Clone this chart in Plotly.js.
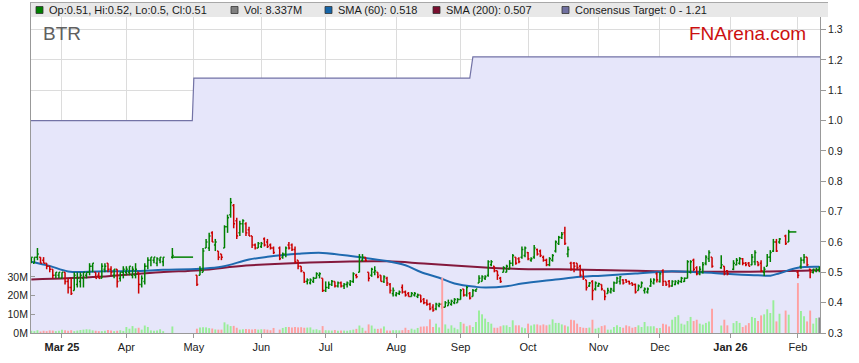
<!DOCTYPE html>
<html>
<head>
<meta charset="utf-8">
<script src="https://cdn.plot.ly/plotly-3.0.1.min.js"></script>
<style>
html,body{margin:0;padding:0;background:#ffffff;}
#chart{width:859px;height:363px;}
</style>
</head>
<body>
<div id="chart"></div>
<script>
// ---------------- DATA ----------------
// Days without trading (holidays and trading halts)
const closedDays = ['2025-04-18','2025-04-21','2025-04-23','2025-04-24','2025-04-25','2025-04-28',
  '2025-04-29','2025-04-30','2025-05-01','2025-06-09','2025-12-25','2025-12-26','2026-01-01',
  '2026-01-26','2026-01-29','2026-01-30'];
const firstDay = '2025-02-17';
const lastDay = '2026-02-11';

const opens = [
  .54,.53,.55,.55,.54,.53,.52,.51,.49,.49,
  .48,.50,.47,.45,.44,.46,.47,.48,.49,.50,.52,.50,.49,.48,.51,.53,.51,.49,.51,.48,.50,
  .50,.50,.49,.49,.50,.46,.47,.52,.54,.54,.53,.54,.535,.55,
  .49,.49,.50,.58,.58,.63,.59,.57,.56,.58,.65,.69,.72,.67,.63,.66,.66,.64,.62,.59,.58,
  .585,.61,.60,.59,.58,.58,.55,.56,.59,.59,.575,.54,.52,.50,.47,.465,.47,.48,.49,.48,
  .44,.45,.46,.47,.455,.465,.455,.46,.46,.47,.49,.50,.54,.55,.50,.49,.50,.50,.49,.47,.48,.46,.43,
  .425,.43,.45,.435,.43,.42,.425,.42,.425,.41,.40,.395,.385,.38,.39,.395,.385,.39,.395,.40,.40,
  .41,.445,.425,.43,.42,.44,.465,.47,.48,.49,.525,.52,.505,.48,.50,.50,.51,.53,.55,.545,.55,.555,
  .565,.54,.55,.575,.57,.55,.54,.525,.54,.57,.595,.615,.63,.56,.53,.53,.53,.52,.505,.475,.455,.47,.445,
  .455,.46,.44,.43,.435,.44,.465,.47,.475,.475,.47,.465,.46,.44,.45,.44,.435,.455,.465,.495,
  .47,.505,.47,.47,.455,.46,.465,.47,.47,.48,.50,.54,.515,.495,.50,.53,.545,.55,.515,.52,.505,
  .51,.525,.53,.545,.53,.53,.525,.535,.535,.53,.50,.52,.55,.57,.60,.60,.62,.60,
  .50,.52,.54,.55,.51,.50,.505,.51
];
const highs = [
  .55,.55,.58,.55,.55,.53,.52,.51,.50,.50,
  .50,.50,.48,.48,.50,.50,.50,.50,.50,.53,.53,.50,.50,.53,.53,.53,.52,.51,.51,.50,.52,
  .52,.52,.52,.53,.50,.49,.53,.55,.55,.55,.55,.55,.55,.58,
  .49,.52,.58,.61,.63,.635,.61,.57,.56,.655,.69,.745,.725,.68,.67,.675,.665,.65,.62,.595,.60,
  .60,.615,.61,.595,.585,.585,.565,.585,.60,.595,.585,.54,.52,.50,.48,.48,.485,.50,.50,.48,
  .47,.47,.475,.47,.47,.47,.465,.47,.475,.50,.495,.56,.56,.55,.50,.515,.52,.50,.49,.49,.485,.465,.45,
  .435,.44,.46,.44,.435,.435,.435,.43,.425,.415,.41,.40,.395,.40,.40,.40,.405,.41,.41,.415,.415,
  .445,.445,.455,.435,.445,.445,.49,.49,.49,.54,.54,.52,.505,.485,.52,.525,.54,.56,.55,.55,.585,.585,
  .567,.55,.59,.578,.575,.555,.545,.55,.56,.605,.62,.633,.65,.585,.535,.534,.53,.525,.507,.475,.468,.474,.47,
  .466,.46,.44,.449,.449,.47,.485,.488,.477,.477,.472,.466,.463,.46,.47,.45,.45,.48,.48,.50,
  .50,.51,.47,.475,.474,.474,.475,.485,.483,.54,.54,.545,.52,.52,.534,.556,.573,.55,.556,.52,.507,
  .54,.547,.55,.547,.534,.534,.56,.573,.535,.54,.518,.56,.573,.61,.61,.613,.624,.64,
  .507,.55,.56,.55,.512,.512,.515,.52
];
const lows = [
  .53,.53,.54,.53,.53,.51,.50,.48,.48,.48,
  .48,.46,.43,.425,.44,.45,.45,.45,.48,.49,.50,.48,.48,.48,.50,.50,.49,.48,.45,.47,.48,
  .49,.49,.48,.48,.43,.45,.46,.51,.52,.53,.52,.53,.52,.545,
  .455,.49,.50,.58,.57,.60,.57,.54,.54,.58,.63,.68,.645,.61,.62,.63,.62,.62,.58,.575,.58,
  .58,.585,.58,.575,.56,.54,.545,.55,.575,.57,.53,.51,.50,.465,.46,.46,.465,.48,.48,.435,
  .435,.445,.455,.45,.45,.45,.445,.45,.455,.465,.48,.50,.535,.535,.47,.485,.49,.48,.47,.465,.455,.43,.42,
  .42,.425,.43,.42,.42,.42,.42,.415,.40,.395,.39,.375,.37,.375,.385,.38,.385,.39,.39,.395,.40,
  .41,.42,.42,.41,.42,.435,.465,.47,.475,.485,.52,.50,.475,.465,.50,.50,.51,.52,.525,.53,.545,.55,
  .54,.535,.545,.555,.55,.535,.52,.52,.535,.565,.59,.61,.59,.55,.505,.50,.51,.485,.475,.44,.452,.408,.44,
  .452,.44,.408,.43,.43,.435,.463,.46,.46,.465,.46,.455,.43,.44,.45,.43,.43,.452,.46,.466,
  .466,.455,.455,.45,.452,.457,.46,.465,.468,.48,.496,.503,.49,.49,.496,.523,.534,.515,.512,.49,.49,
  .507,.523,.525,.523,.52,.52,.523,.523,.52,.50,.488,.52,.534,.567,.567,.594,.59,.60,
  .48,.512,.529,.52,.48,.496,.50,.50
];
const closes = [
  .55,.55,.56,.53,.53,.52,.51,.49,.50,.50,
  .50,.47,.45,.43,.49,.48,.49,.50,.50,.52,.53,.48,.48,.52,.52,.51,.50,.51,.47,.50,.51,
  .51,.52,.51,.51,.46,.48,.52,.54,.55,.55,.545,.55,.55,.555,
  .46,.51,.57,.60,.62,.60,.60,.55,.55,.65,.68,.73,.66,.62,.66,.67,.63,.62,.59,.58,.595,
  .595,.59,.585,.58,.565,.545,.56,.58,.58,.575,.535,.52,.505,.47,.475,.475,.48,.495,.495,.44,
  .45,.46,.47,.455,.465,.455,.46,.465,.47,.495,.485,.55,.55,.54,.48,.51,.505,.485,.47,.485,.465,.44,.44,
  .43,.435,.435,.425,.42,.43,.43,.425,.405,.40,.395,.38,.375,.395,.395,.385,.40,.40,.405,.41,.41,
  .44,.425,.45,.415,.44,.445,.48,.485,.485,.535,.535,.505,.49,.47,.515,.52,.53,.555,.53,.535,.575,.58,
  .545,.545,.58,.56,.555,.54,.525,.545,.555,.60,.615,.625,.595,.575,.51,.52,.515,.49,.48,.45,.465,.44,.465,
  .462,.445,.42,.44,.445,.465,.48,.485,.465,.47,.462,.46,.435,.455,.465,.445,.445,.47,.475,.475,
  .495,.47,.46,.455,.47,.47,.47,.48,.48,.535,.535,.51,.495,.51,.525,.55,.565,.52,.525,.495,.495,
  .53,.54,.545,.53,.525,.52,.55,.565,.525,.505,.51,.55,.565,.60,.57,.61,.595,.633,
  .49,.54,.55,.525,.50,.51,.51,.51
];
// Volume in millions of shares
const volumes = [
  1.2,1.0,1.5,0.8,1.2,1.0,1.4,1.3,1.0,1.2,
  1.8,1.5,1.2,1.5,1.0,1.3,1.6,1.8,2.0,1.9,1.4,1.2,1.0,1.0,1.2,1.6,1.4,1.0,1.2,1.5,1.1,
  3.2,2.3,3.7,2.5,2.8,1.8,4.0,3.2,1.4,1.2,1.4,2.0,1.0,3.5,
  2.3,3.0,3.1,3.0,2.6,2.4,1.9,1.8,1.8,5.7,4.6,3.7,3.8,2.8,1.8,2.0,2.1,2.0,1.9,2.1,1.8,
  2.0,2.0,1.8,1.5,2.7,1.8,2.7,3.2,3.2,3.0,3.2,3.0,3.1,2.8,2.9,3.0,1.8,2.0,1.5,3.7,
  1.5,1.4,1.3,1.6,1.2,1.4,1.3,1.2,1.5,1.8,2.2,4.0,2.8,1.2,4.6,4.0,2.3,2.2,2.4,3.5,1.4,1.3,1.5,
  1.5,1.4,1.5,2.8,1.6,2.3,1.8,2.7,3.4,3.5,3.6,7.3,3.2,5.0,3.0,29.6,4.6,2.3,4.1,2.8,2.0,
  5.9,5.0,3.6,4.1,3.2,5.9,12.0,10.0,7.7,5.9,5.0,2.8,2.8,3.6,4.1,4.1,3.2,6.8,4.1,4.1,3.0,2.5,
  5.0,4.0,4.6,4.6,4.1,4.6,4.1,4.5,7.3,5.4,5.4,4.6,4.1,3.5,7.1,6.8,5.0,3.2,2.8,2.7,2.9,7.1,2.3,
  2.8,3.7,4.1,1.8,1.8,3.2,4.1,3.2,2.8,4.1,3.6,2.8,3.2,4.1,3.2,5.9,3.6,3.6,3.6,2.6,
  2.7,5.0,4.6,3.5,7.1,8.6,9.5,5.0,4.5,6.4,8.6,6.4,7.1,5.0,4.5,5.4,6.2,13.0,4.0,7.1,4.1,
  5.3,6.4,5.4,3.2,4.1,5.3,8.6,8.0,6.4,9.4,10.0,12.7,10.7,17.5,6.2,10.3,12.0,9.8,
  26.7,11.7,8.9,6.2,12.0,5.0,8.0,8.337
];

// Trading halts: last traded price carried across the halt
const haltStarts = ['2025-04-22', '2026-01-28'];
const haltEnds = ['2025-04-30 18:00', '2026-01-30 12:00'];
const haltPrices = [0.55, 0.633];

// Moving averages
const sma60Dates = ['2025-02-17','2025-02-25','2025-03-05','2025-03-19','2025-04-03','2025-04-17','2025-05-05',
  '2025-05-14','2025-05-27','2025-06-04','2025-06-18','2025-06-30','2025-07-15','2025-07-29','2025-08-06',
  '2025-08-13','2025-08-21','2025-08-28','2025-09-08','2025-09-11','2025-09-22','2025-09-29','2025-10-14',
  '2025-10-24','2025-11-04','2025-11-19','2025-12-04','2025-12-18','2025-12-31','2026-01-14','2026-01-20',
  '2026-01-23','2026-02-02','2026-02-11'];
const sma60Values = [.535,.521,.503,.503,.504,.508,.512,.518,.542,.551,.561,.564,.551,.537,.523,
  .501,.482,.463,.452,.45,.454,.463,.476,.485,.489,.496,.503,.50,.495,.49,.489,
  .497,.515,.518];
const sma200Dates = ['2025-02-17','2025-03-19','2025-04-16','2025-05-05','2025-05-26','2025-06-18','2025-07-29',
  '2025-08-14','2025-09-11','2025-09-26','2025-10-15','2025-11-07','2025-12-16','2026-01-16','2026-02-11'];
const sma200Values = [.476,.485,.500,.507,.522,.531,.536,.529,.516,.511,.510,.507,.502,.503,.507];

// Consensus target
const targetDates = ['2025-02-14 18:00','2025-04-30 12:00','2025-05-01','2025-09-04','2025-09-05','2026-02-12'];
const targetValues = [1.00, 1.00, 1.14, 1.14, 1.21, 1.21];

// Axis labels
const monthTicks = ['2025-03-03','2025-04-01','2025-05-01','2025-06-02','2025-07-01','2025-08-01','2025-09-01',
  '2025-10-01','2025-11-03','2025-12-01','2026-01-01','2026-02-02'];
const monthLabels = ['<b>Mar 25</b>','Apr','May','Jun','Jul','Aug','Sep','Oct','Nov','Dec','<b>Jan 26</b>','Feb'];
const volTicks = [0, 10, 20, 30];
const volLabels = ['0M','10M','20M','30M'];
const viewStart = '2025-02-14 21:30';
const viewEnd = '2026-02-11 05:00';

const legendTexts = ['Op:0.51, Hi:0.52, Lo:0.5, Cl:0.51', 'Vol: 8.337M', 'SMA (60): 0.518',
  'SMA (200): 0.507', 'Consensus Target: 0 - 1.21'];
const legendColors = ['#008000', '#808080', '#1565A8', '#7A1030', '#7070A0'];

// ---------------- BUILD ----------------
// The x axis counts weekdays (weekends removed), origin 2025-03-03.
const ORIGIN = Date.UTC(2025, 2, 3);
const DAY = 86400000;
function parseUTC(s) {
  const m = s.match(/^(\d+)-(\d+)-(\d+)(?:[ T](\d+):(\d+))?/);
  return Date.UTC(+m[1], +m[2] - 1, +m[3], m[4] ? +m[4] : 0, m[5] ? +m[5] : 0);
}
function weekdayPos(s) {
  const t = parseUTC(s);
  const dayStart = Math.floor(t / DAY) * DAY;
  const frac = (t - dayStart) / DAY;
  const days = Math.round((dayStart - ORIGIN) / DAY);
  const weeks = Math.floor(days / 7);
  let rem = days - weeks * 7;          // 0 = Monday
  let f = frac;
  if (rem >= 5) { rem = 5; f = 0; }     // weekend collapses to next Monday
  return weeks * 5 + rem + f;
}
function pad(n){ return (n < 10 ? '0' : '') + n; }
function tradingDays(start, end, closed) {
  const out = [];
  const set = new Set(closed);
  const d = new Date(parseUTC(start));
  const e = new Date(parseUTC(end));
  while (d <= e) {
    const wd = d.getUTCDay();
    const s = d.getUTCFullYear() + '-' + pad(d.getUTCMonth() + 1) + '-' + pad(d.getUTCDate());
    if (wd !== 0 && wd !== 6 && !set.has(s)) out.push(s);
    d.setUTCDate(d.getUTCDate() + 1);
  }
  return out;
}
const dates = tradingDays(firstDay, lastDay, closedDays);
const n = Math.min(dates.length, opens.length, highs.length, lows.length, closes.length, volumes.length);
if (dates.length !== opens.length) console.log('length mismatch', dates.length, opens.length);

const xs = dates.slice(0, n).map(weekdayPos);
const volColors = [];
for (let i = 0; i < n; i++) {
  if (closes[i] > opens[i]) volColors.push('#98EE98');
  else if (closes[i] < opens[i]) volColors.push('#FFA0A0');
  else volColors.push('#888888');
}

// OHLC bars as line segments in axis units: high-low stem, open tick left, close tick right
const TICK = 0.45;
const upX = [], upY = [], dnX = [], dnY = [];
for (let i = 0; i < n; i++) {
  const up = closes[i] >= opens[i];
  const X = up ? upX : dnX, Y = up ? upY : dnY;
  const x = xs[i];
  X.push(x, x, null, x - TICK, x, null, x, x + TICK, null);
  Y.push(lows[i], highs[i], null, opens[i], opens[i], null, closes[i], closes[i], null);
}

const FONT = 'Liberation Sans, Arial, sans-serif';

const traces = [];
traces.push({
  type: 'scatter', mode: 'lines', x: targetDates.map(weekdayPos), y: targetValues,
  line: {color: '#7373A6', width: 1.2, shape: 'linear'},
  fill: 'tozeroy', fillcolor: '#E6E6FA', hoverinfo: 'skip', showlegend: false
});
traces.push({
  type: 'scatter', mode: 'lines', x: sma200Dates.map(weekdayPos), y: sma200Values,
  line: {color: '#84193C', width: 2, shape: 'spline', smoothing: 1}, hoverinfo: 'skip', showlegend: false
});
traces.push({
  type: 'scatter', mode: 'lines', x: sma60Dates.map(weekdayPos), y: sma60Values,
  line: {color: '#1F6AB0', width: 2, shape: 'spline', smoothing: 1}, hoverinfo: 'skip', showlegend: false
});
for (let i = 0; i < haltStarts.length; i++) {
  traces.push({
    type: 'scatter', mode: 'lines', x: [weekdayPos(haltStarts[i]), weekdayPos(haltEnds[i])],
    y: [haltPrices[i], haltPrices[i]],
    line: {color: '#008000', width: 1.5}, hoverinfo: 'skip', showlegend: false
  });
}
traces.push({
  type: 'scatter', mode: 'lines', x: upX, y: upY, connectgaps: false,
  line: {color: '#008000', width: 1.5}, hoverinfo: 'skip', showlegend: false
});
traces.push({
  type: 'scatter', mode: 'lines', x: dnX, y: dnY, connectgaps: false,
  line: {color: '#CC0000', width: 1.5}, hoverinfo: 'skip', showlegend: false
});
traces.push({
  type: 'bar', x: xs, y: volumes.slice(0, n), yaxis: 'y2',
  marker: {color: volColors, line: {width: 0}}, width: 0.62,
  hoverinfo: 'skip', showlegend: false
});

// Legend strip and items
const PX = 789, PY = 316;
function xp(px){ return (px - 31) / PX; }
function yp(py){ return (333 - py) / PY; }
const shapes = [
  {type: 'rect', xref: 'paper', yref: 'paper', x0: xp(30), x1: xp(828), y0: yp(17), y1: yp(2.5),
   fillcolor: '#E8E8E8', line: {width: 0}, layer: 'above'},
  {type: 'line', xref: 'paper', yref: 'paper', x0: xp(30), x1: xp(828), y0: yp(2.5), y1: yp(2.5),
   line: {color: '#A8A8A8', width: 1}},
  {type: 'line', xref: 'paper', yref: 'paper', x0: xp(30.5), x1: xp(30.5), y0: yp(17), y1: yp(2.5),
   line: {color: '#A0A0A0', width: 1}}
];
const annotations = [];
const legendX = [36, 231, 325, 433, 562];
for (let i = 0; i < legendTexts.length; i++) {
  shapes.push({type: 'rect', xref: 'paper', yref: 'paper', x0: xp(legendX[i]), x1: xp(legendX[i] + 7),
    y0: yp(13.5), y1: yp(6.5), fillcolor: legendColors[i], line: {color: '#333333', width: 0.8}});
  annotations.push({xref: 'paper', yref: 'paper', x: xp(legendX[i] + 10.5), y: yp(10), xanchor: 'left',
    yanchor: 'middle', showarrow: false, text: legendTexts[i], font: {family: FONT, size: 11, color: '#1a1a1a'}});
}
annotations.push({xref: 'paper', yref: 'paper', x: xp(41), y: yp(33), xanchor: 'left', yanchor: 'middle',
  showarrow: false, text: 'BTR', font: {family: FONT, size: 19, color: '#606060'}});
annotations.push({xref: 'paper', yref: 'paper', x: xp(808), y: yp(34), xanchor: 'right', yanchor: 'middle',
  showarrow: false, text: 'FNArena.com', font: {family: FONT, size: 19, color: '#CC1010'}});

const layout = {
  width: 859, height: 363,
  margin: {l: 31, r: 39, t: 17, b: 30, pad: 0},
  paper_bgcolor: '#ffffff', plot_bgcolor: '#ffffff',
  showlegend: false, hovermode: false,
  font: {family: FONT, color: '#222222'},
  xaxis: {
    type: 'linear', range: [weekdayPos(viewStart), weekdayPos(viewEnd)],
    tickmode: 'array', tickvals: monthTicks.map(weekdayPos), ticktext: monthLabels,
    showgrid: true, gridcolor: '#DCDCDC', gridwidth: 1,
    showline: true, linecolor: '#999999', linewidth: 1,
    ticks: 'outside', ticklen: 4, tickcolor: '#999999',
    tickfont: {family: FONT, size: 11, color: '#222222'}, zeroline: false
  },
  yaxis: {
    side: 'right', range: [0.3, 0.3 + 316 / 303.5], tick0: 0.3, dtick: 0.1, tickformat: '.1f',
    showgrid: true, gridcolor: '#DCDCDC', gridwidth: 1,
    showline: true, linecolor: '#999999', linewidth: 1,
    ticks: 'outside', ticklen: 5, tickcolor: '#999999',
    tickfont: {family: FONT, size: 10.5, color: '#222222'}, zeroline: false
  },
  yaxis2: {
    side: 'left', overlaying: 'y', range: [0, 316 / 1.87],
    tickmode: 'array', tickvals: volTicks, ticktext: volLabels,
    showgrid: false, showline: true, linecolor: '#999999', linewidth: 1,
    ticks: 'inside', ticklen: 4, tickcolor: '#999999',
    tickfont: {family: FONT, size: 10.5, color: '#222222'}, zeroline: false
  },
  shapes: shapes,
  annotations: annotations
};

Plotly.newPlot('chart', traces, layout, {staticPlot: true, displayModeBar: false});
</script>
</body>
</html>
